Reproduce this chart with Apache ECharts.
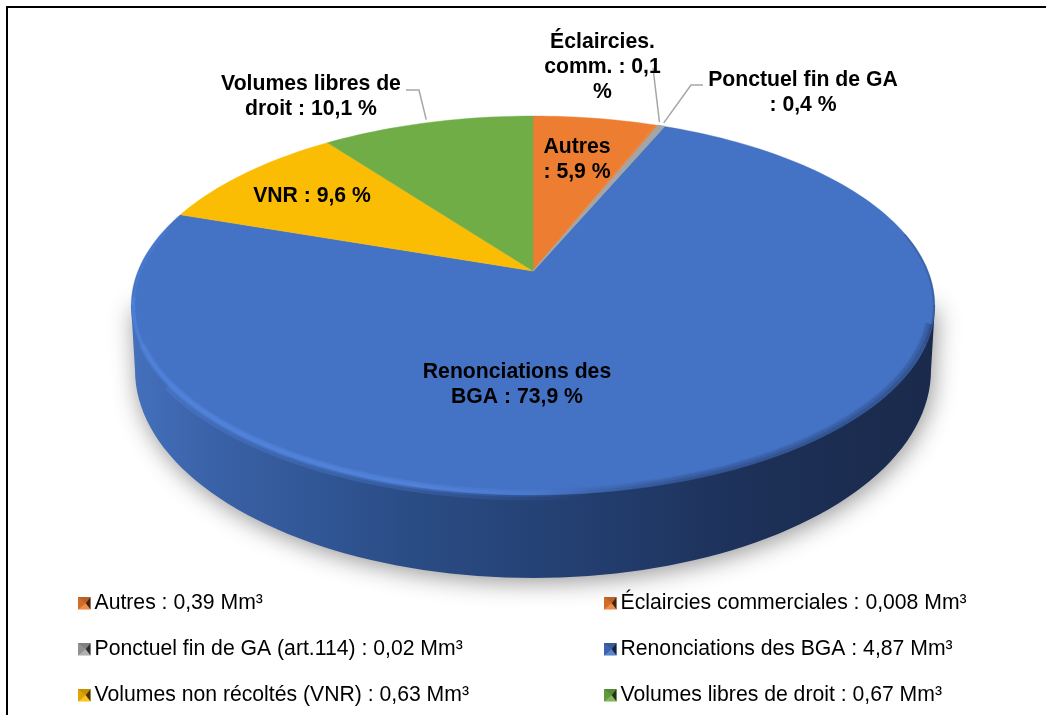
<!DOCTYPE html>
<html><head><meta charset="utf-8">
<style>html,body{margin:0;padding:0;background:#fff}#c{width:1046px;height:715px}</style>
<script src="https://cdn.jsdelivr.net/npm/echarts@6/dist/echarts.min.js"></script>
</head><body><div id="c"></div>
<script>
// ---- data ----
const categories = ['Autres','Éclaircies commerciales','Ponctuel fin de GA (art.114)','Renonciations des BGA','Volumes non récoltés (VNR)','Volumes libres de droit'];
const volumes = [0.39,0.008,0.02,4.87,0.63,0.67];
const legendLabels = ['Autres : 0,39 Mm³','Éclaircies commerciales : 0,008 Mm³','Ponctuel fin de GA (art.114) : 0,02 Mm³','Renonciations des BGA : 4,87 Mm³','Volumes non récoltés (VNR) : 0,63 Mm³','Volumes libres de droit : 0,67 Mm³'];
const sliceLabels = [['Autres',': 5,9 %'],['Éclaircies.','comm. : 0,1','%'],['Ponctuel fin de GA',': 0,4 %'],['Renonciations des','BGA : 73,9 %'],['VNR : 9,6 %'],['Volumes libres de','droit : 10,1 %']];
const colors = ['#ED7D31','#ED7D31','#A5A5A5','#4472C4','#FBBC04','#70AD47'];

// ---- layout (not data) ----
const CX=533, CY=271, A=395, B=183.2, K=0.182;
const BOT={cx:533,cy:370,rx:398,ry:208};
const labelAnchors=[[577,147],[602.5,42],[803,80],[517,372],[312,196],[311,84]];
const LH=25;
const FONT='"Liberation Sans", Arial, sans-serif';
const leaderPaths=[null,[[653,68]],[[703,85],[691,85]],null,null,[[406,90],[419,90]]];
const leaderEndDx=[0,2.5,2.5,0,0,-1];
const legendCols=[78,604], legendTop=597, legendRow=46, markerSize=12.5;

function proj(deg,scale){ // angle clockwise from top -> perspective disc
  const t=deg*Math.PI/180, s=scale==null?1:scale, u=Math.sin(t)*s, v=-Math.cos(t)*s, w=1/(1-K*v);
  return [CX+A*u*w, CY+B*v*w];
}
const total=volumes.reduce((a,b)=>a+b,0);
const bounds=[0]; volumes.forEach(v=>bounds.push(bounds[bounds.length-1]+v/total*360));

function bodyPolygon(){
  const pts=[];
  for(let a=180;a>=0;a-=2){const t=a*Math.PI/180;pts.push([BOT.cx+BOT.rx*Math.cos(t),BOT.cy+BOT.ry*Math.sin(t)]);}
  pts.push([935,305]);pts.push([131,305]);
  return pts;
}
function rimPoints(from,to,scale){const p=[];for(let a=from;a<=to;a+=2)p.push(proj(a,scale));return p;}
const G=(x0,x1,stops)=>new echarts.graphic.LinearGradient(x0,0,x1,0,stops,true);
const rimStroke=(a)=>G(131,590,[{offset:0,color:`rgba(84,134,224,${a})`},{offset:.6,color:`rgba(84,134,224,${a})`},{offset:1,color:'rgba(84,134,224,0)'}]);
const darkStroke=(a)=>G(540,935,[{offset:0,color:'rgba(28,47,85,0)'},{offset:.35,color:`rgba(28,47,85,${a})`},{offset:1,color:`rgba(28,47,85,${a})`}]);

function renderSlice(params,api){
  const i=params.seriesIndex, s=bounds[i], e=bounds[i+1], pts=[[CX,CY]];
  const n=Math.max(2,Math.ceil((e-s)/1.5));
  for(let k=0;k<=n;k++)pts.push(proj(s+(e-s)*k/n));
  const kids=[];
  if(i===3){
    kids.push({type:'polygon',z2:0,shape:{points:bodyPolygon()},style:{
      fill:G(131,935,[{offset:0,color:'#4470BC'},{offset:0.1,color:'#3A62A8'},{offset:0.35,color:'#2A4C85'},{offset:0.6,color:'#223C6C'},{offset:0.8,color:'#1C2F55'},{offset:1,color:'#1A2A4C'}]),
      shadowBlur:24,shadowColor:'rgba(0,0,0,0.42)',shadowOffsetX:2,shadowOffsetY:4}});
  }
  const c=api.visual('color');
  kids.push({type:'polygon',z2:1,shape:{points:pts},style:{fill:c,stroke:c,lineWidth:i===2?1.2:0.4}});
  if(i===3){
    // soft dark transition on the right/bottom edge of the top face
    kids.push({type:'polyline',z2:2,shape:{points:rimPoints(78,112,0.998)},style:{fill:null,lineWidth:2,stroke:darkStroke(.25)}});
    [[9,.12,.992],[6,.16,.992],[3,.22,.995]].forEach(([w,a,sc])=>
      kids.push({type:'polyline',z2:2,shape:{points:rimPoints(106,200,sc)},style:{fill:null,lineWidth:w,stroke:darkStroke(a)}}));
    // light bevel on the lower-left rim: layered soft strokes that taper toward the upper left
    kids.push({type:'polyline',z2:3,shape:{points:rimPoints(166,236,1.0)},style:{fill:null,lineWidth:11,stroke:rimStroke(.28)}});
    kids.push({type:'polyline',z2:3,shape:{points:rimPoints(166,248,0.995)},style:{fill:null,lineWidth:7,stroke:rimStroke(.35)}});
    kids.push({type:'polyline',z2:3,shape:{points:rimPoints(166,262,0.995)},style:{fill:null,lineWidth:3.5,stroke:rimStroke(.55)}});
    kids.push({type:'polyline',z2:3,shape:{points:rimPoints(258,285,0.994)},style:{fill:null,lineWidth:3,stroke:'rgba(84,134,224,.25)'}});
  }
  if(leaderPaths[i]){
    const mid=proj((s+e)/2);
    kids.push({type:'polyline',z2:5,shape:{points:leaderPaths[i].concat([[mid[0]+leaderEndDx[i],mid[1]-3]])},style:{fill:null,stroke:'#A6A6A6',lineWidth:1.5}});
  }
  const [lx,ly]=labelAnchors[i];
  sliceLabels[i].forEach((t,j)=>kids.push({type:'text',z2:6,x:lx,y:ly+j*LH,style:{text:t,fill:'#000',font:'bold 21.2px '+FONT,align:'center',verticalAlign:'middle'}}));
  return {type:'group',children:kids};
}

const series=categories.map((c,i)=>({
  name:legendLabels[i],type:'custom',coordinateSystem:'none',silent:true,animation:false,
  z: i===3?1:2,
  itemStyle:{color:colors[i]},
  data:[[volumes[i]]],renderItem:renderSlice
}));
const legendItem=i=>({name:legendLabels[i],icon:'rect',itemStyle:{color:colors[i]}});
const legendBase={orient:'vertical',itemWidth:markerSize,itemHeight:markerSize,itemGap:legendRow-27,selectedMode:false,padding:0,
  textStyle:{fontFamily:FONT,fontSize:21.2,lineHeight:22,color:'#000',padding:[5,0,0,-1]}};
// bevelled legend markers: shaded facets over the native legend squares
const bevels=[];
legendCols.forEach(x=>[0,1,2].forEach(r=>{
  const y=legendTop+r*legendRow, m=markerSize, c=[x+m*0.62,y+m/2];
  const facet=(p,fill)=>bevels.push({type:'polygon',silent:true,z:100,shape:{points:p},style:{fill}});
  facet([[x,y],[x+m,y],c],'rgba(0,0,0,.22)');
  facet([[x,y],[x,y+m],c],'rgba(0,0,0,.12)');
  facet([[x+m,y],[x+m,y+m],c],'rgba(0,0,0,.72)');
  facet([[x,y+m],[x+m,y+m],c],'rgba(255,255,255,.12)');
}));
const chart=echarts.init(document.getElementById('c'),null,{renderer:'canvas'});
chart.setOption({
  animation:false,backgroundColor:'#fff',
  legend:[
    Object.assign({},legendBase,{left:legendCols[0],top:legendTop-7.25,data:[0,2,4].map(legendItem)}),
    Object.assign({},legendBase,{left:legendCols[1],top:legendTop-7.25,data:[1,3,5].map(legendItem)})
  ],
  graphic:[{type:'polyline',silent:true,shape:{points:[[7,715],[7,7],[1046,7]]},style:{fill:null,stroke:'#000',lineWidth:2}}].concat(bevels),
  series
});
</script></body></html>
